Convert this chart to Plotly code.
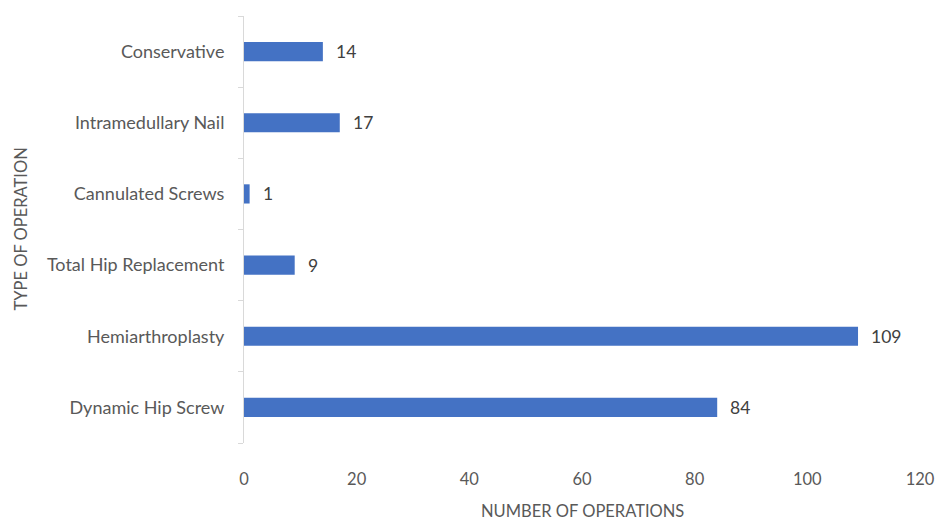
import plotly.graph_objects as go

categories = ["Dynamic Hip Screw", "Hemiarthroplasty", "Total Hip Replacement",
              "Cannulated Screws", "Intramedullary Nail", "Conservative"]
values = [84, 109, 9, 1, 17, 14]
x_ticks = [0, 20, 40, 60, 80, 100, 120]

FONT = "Lato"
GRAY = "#595959"

fig = go.Figure(go.Bar(
    x=values, y=categories, orientation="h",
    marker=dict(color="#4472C4", line=dict(width=0)),
    width=0.27,
))

for c, v in zip(categories, values):
    fig.add_annotation(x=v, y=c, text=str(v), showarrow=False,
                       xanchor="left", xshift=11,
                       font=dict(family=FONT, size=17.5, color="#404040"))

fig.update_layout(
    width=936, height=522,
    margin=dict(l=244, r=16, t=16, b=79, autoexpand=False),
    plot_bgcolor="white", paper_bgcolor="white",
    font=dict(family=FONT, size=16, color=GRAY),
    showlegend=False,
    xaxis=dict(range=[0, 120], tickvals=x_ticks, showgrid=False, zeroline=False,
               showline=False, ticks="", ticklabelstandoff=24, automargin=False,
               tickfont=dict(family=FONT, size=16.5, color=GRAY)),
    yaxis=dict(type="category", range=[-0.5, 5.5], showgrid=False, zeroline=False,
               showline=True, linecolor="#D9D9D9", linewidth=1, automargin=False,
               ticks="outside", tickson="boundaries", ticklen=5, tickcolor="#D9D9D9",
               ticklabelstandoff=15,
               tickfont=dict(family=FONT, size=18, color=GRAY)),
)

fig.add_annotation(text="NUMBER OF OPERATIONS", xref="paper", yref="paper",
                   x=0.5, y=0, yshift=-68, xanchor="center", yanchor="middle",
                   showarrow=False, font=dict(family=FONT, size=16.5, color=GRAY))
fig.add_annotation(text="TYPE OF OPERATION", xref="paper", yref="paper",
                   x=0, xshift=-224, y=0.5, textangle=-90, xanchor="center",
                   yanchor="middle", showarrow=False,
                   font=dict(family=FONT, size=16.5, color=GRAY))

fig.write_html("out.html")
